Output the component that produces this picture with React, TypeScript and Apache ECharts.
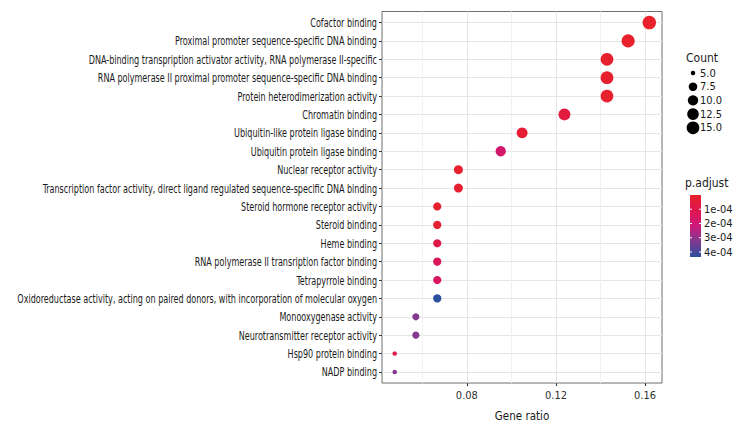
import React, { useEffect, useRef } from "react";
import * as echarts from "echarts";

const categories = [
  "Cofactor binding",
  "Proximal promoter sequence-specific DNA binding",
  "DNA-binding transpription activator activity, RNA polymerase II-specific",
  "RNA polymerase II proximal promoter sequence-specific DNA binding",
  "Protein heterodimerization activity",
  "Chromatin binding",
  "Ubiquitin-like protein ligase binding",
  "Ubiquitin protein ligase binding",
  "Nuclear receptor activity",
  "Transcription factor activity, direct ligand regulated sequence-specific DNA binding",
  "Steroid hormone receptor activity",
  "Steroid binding",
  "Heme binding",
  "RNA polymerase II transription factor binding",
  "Tetrapyrrole binding",
  "Oxidoreductase activity, acting on paired donors, with incorporation of molecular oxygen",
  "Monooxygenase activity",
  "Neurotransmitter receptor activity",
  "Hsp90 protein binding",
  "NADP binding",
];
const geneRatio = [
  0.1619, 0.1524, 0.1429, 0.1429, 0.1429, 0.1238, 0.1048, 0.0952, 0.0762, 0.0762,
  0.0667, 0.0667, 0.0667, 0.0667, 0.0667, 0.0667, 0.0571, 0.0571, 0.0476, 0.0476,
];
const counts = [17, 16, 15, 15, 15, 13, 11, 10, 8, 8, 7, 7, 7, 7, 7, 7, 6, 6, 5, 5];
const pAdjust = [
  0.2e-6, 0.5e-5, 0.8e-5, 1.0e-5, 1.2e-5, 0.6e-4, 0.25e-4, 1.8e-4, 0.15e-4, 0.2e-4,
  0.15e-4, 0.2e-4, 0.9e-4, 1.35e-4, 1.45e-4, 4.35e-4, 3.2e-4, 3.2e-4, 0.85e-4, 3.2e-4,
];
const xTickLabels = [0.08, 0.12, 0.16];
const xMinorLines = [0.06, 0.1, 0.14];
const sizeBreaks = [5, 7.5, 10, 12.5, 15];
const colorBreaks = [1e-4, 2e-4, 3e-4, 4e-4];
const colorStops = ["#E8212A", "#DE1650", "#CD1A7A", "#7F3A91", "#2B4E9E"];

const FONT = "'DejaVu Sans Condensed', 'DejaVu Sans', sans-serif";

export default function App() {
  const ref = useRef<HTMLDivElement>(null);
  useEffect(() => {
    document.body.style.margin = "0";
    const chart = echarts.init(ref.current!, null, { renderer: "svg" });
    const cMin = Math.min(...counts);
    const cMax = Math.max(...counts);
    const sizeOf = (c: number) => 4.5 + Math.sqrt(Math.max(0, (c - cMin) / (cMax - cMin))) * 9;
    const pMin = Math.min(...pAdjust);
    const pMax = Math.max(...pAdjust);
    const idx = categories.map((_, i) => i);
    const xMin = 0.0419;
    const xMax = 0.1676;

    chart.setOption({
      animation: false,
      backgroundColor: "#fff",
      grid: {
        left: 382,
        top: 11.5,
        width: 280,
        height: 371.5,
        show: true,
        borderColor: "#6e6e6e",
        borderWidth: 1,
        backgroundColor: "transparent",
        outerBoundsMode: "none",
        containLabel: false,
      },
      xAxis: [
        {
          type: "value",
          min: xMin,
          max: xMax,
          name: "Gene ratio",
          nameLocation: "middle",
          nameGap: 27,
          nameTextStyle: { fontFamily: FONT, fontSize: 11.5, color: "#1a1a1a" },
          axisLine: { show: false, onZero: false },
          axisTick: { show: true, length: 3, customValues: xTickLabels, lineStyle: { color: "#333" } },
          axisLabel: {
            customValues: xTickLabels,
            formatter: (v: number) => v.toFixed(2),
            fontFamily: FONT,
            fontSize: 11,
            color: "#333",
            margin: 7,
          },
          splitLine: { show: true, lineStyle: { color: "#e6e6e6", width: 1 } },
        },
        {
          type: "value",
          min: xMin,
          max: xMax,
          position: "bottom",
          axisLine: { show: false, onZero: false },
          axisTick: { show: false, customValues: xMinorLines },
          axisLabel: { show: false, customValues: xMinorLines },
          splitLine: { show: true, lineStyle: { color: "#f2f2f2", width: 1 } },
        },
      ],
      yAxis: {
        type: "value",
        min: -0.6,
        max: 19.6,
        inverse: true,
        axisLine: { show: false, onZero: false },
        axisTick: { show: true, length: 3, customValues: idx, lineStyle: { color: "#333" } },
        axisLabel: { show: false, customValues: idx },
        splitLine: { show: true, lineStyle: { color: "#e6e6e6", width: 1 } },
      },
      visualMap: {
        type: "continuous",
        show: false,
        min: pMin,
        max: pMax,
        dimension: 3,
        seriesIndex: 0,
        inRange: { color: colorStops },
      },
      series: [
        {
          type: "scatter",
          xAxisIndex: 0,
          data: categories.map((_, i) => [geneRatio[i], i, counts[i], pAdjust[i]]),
          symbol: "circle",
          symbolSize: (d: number[]) => sizeOf(d[2]),
          itemStyle: { opacity: 1 },
          z: 5,
        },
      ],
    });

    const barTop = 195;
    const barH = 62;
    const barX = 690;
    const barW = 11;

    const graphic: any[] = [];
    // y-axis category labels, condensed to match the narrow typeface of the reference
    const labelFont = `12px ${FONT}`;
    const ctx = document.createElement("canvas").getContext("2d")!;
    ctx.font = labelFont;
    const maxW = Math.max(...categories.map((c) => ctx.measureText(c).width));
    const sx = 360 / maxW;
    categories.forEach((c, i) => {
      const p = chart.convertToPixel({ xAxisIndex: 0, yAxisIndex: 0 }, [xMin, i]) as number[];
      graphic.push({
        type: "text",
        x: p[0] - 5,
        y: p[1],
        scaleX: sx,
        style: { text: c, font: labelFont, fill: "#1a1a1a", align: "right", verticalAlign: "middle" },
      });
    });

    graphic.push({
      type: "text",
      x: 686,
      y: 58,
      style: { text: "Count", font: `12px ${FONT}`, fill: "#1a1a1a", verticalAlign: "middle" },
    });
    sizeBreaks.forEach((b, i) => {
      const y = 73 + i * 13.7;
      graphic.push({
        type: "circle",
        shape: { cx: 693, cy: y, r: sizeOf(b) / 2 },
        style: { fill: "#000" },
      });
      graphic.push({
        type: "text",
        x: 700,
        y: y,
        style: { text: b.toFixed(1), font: `11px ${FONT}`, fill: "#1a1a1a", verticalAlign: "middle" },
      });
    });
    graphic.push({
      type: "text",
      x: 685,
      y: 183,
      style: { text: "p.adjust", font: `12px ${FONT}`, fill: "#1a1a1a", verticalAlign: "middle" },
    });
    graphic.push({
      type: "rect",
      shape: { x: barX, y: barTop, width: barW, height: barH },
      style: {
        fill: new echarts.graphic.LinearGradient(
          0, 0, 0, 1,
          colorStops.map((c, i) => ({ offset: i / (colorStops.length - 1), color: c }))
        ),
      },
    });
    colorBreaks.forEach((b) => {
      const y = barTop + ((b - pMin) / (pMax - pMin)) * barH;
      graphic.push({ type: "line", shape: { x1: barX, y1: y, x2: barX + 2, y2: y }, style: { stroke: "#fff", lineWidth: 1 } });
      graphic.push({ type: "line", shape: { x1: barX + barW - 2, y1: y, x2: barX + barW, y2: y }, style: { stroke: "#fff", lineWidth: 1 } });
      graphic.push({
        type: "text",
        x: barX + barW + 3,
        y: y,
        style: { text: b.toExponential(0).replace("e-", "e-0"), font: `11px ${FONT}`, fill: "#1a1a1a", verticalAlign: "middle" },
      });
    });

    chart.setOption({ graphic });
    return () => chart.dispose();
  }, []);
  return <div ref={ref} style={{ width: 744, height: 432 }} />;
}
